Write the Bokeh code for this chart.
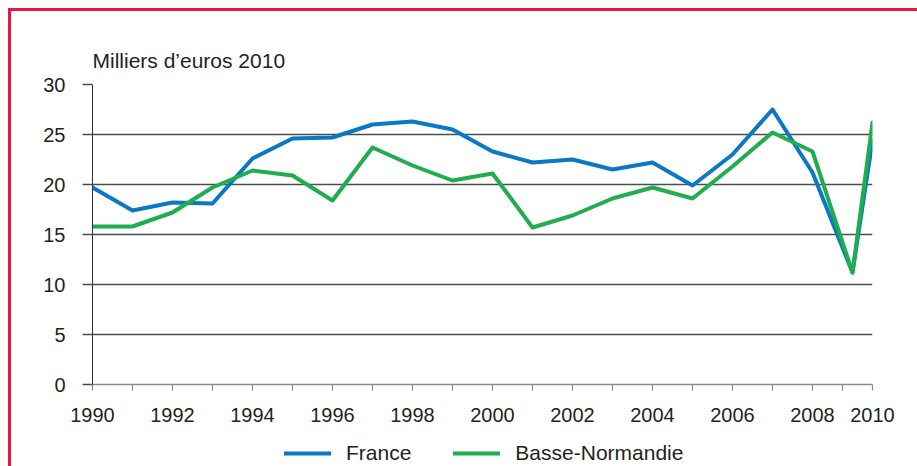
from bokeh.plotting import figure
from bokeh.models import Range1d, FixedTicker, Legend, LegendItem
from bokeh.layouts import column
from bokeh.embed import file_html
from bokeh.resources import INLINE

# ---- data -------------------------------------------------------------
years = list(range(1990, 2011))
france = [19.7, 17.4, 18.2, 18.1, 22.6, 24.6, 24.7, 26.0, 26.3, 25.5, 23.3,
          22.2, 22.5, 21.5, 22.2, 19.9, 23.0, 27.5, 21.2, 11.2, 24.4]
basse_normandie = [15.8, 15.8, 17.2, 19.7, 21.4, 20.9, 18.4, 23.7, 21.9, 20.4, 21.1,
                   15.7, 16.9, 18.6, 19.7, 18.6, 21.8, 25.2, 23.3, 11.2, 26.2]
tick_labels = ["1990", "1992", "1994", "1996", "1998", "2000",
               "2002", "2004", "2006", "2008", "2010"]
y_ticks = [0, 5, 10, 15, 20, 25, 30]
y_title = "Milliers d\u2019euros 2010"
series_names = ["France", "Basse-Normandie"]


# the original axis squeezes the last interval (2009 -> 2010) to half a step
def axis_pos(year):
    return year if year < 2010 else 2009.5


x = [axis_pos(y) for y in years]
label_years = [int(t) for t in tick_labels]
major = [axis_pos(y) for y in label_years]
minor = [axis_pos(y) for y in years if y not in label_years and y < 2009] + [2008.75]

FONT = "Liberation Sans"
TXT = "#231f20"
BLUE = "#0a78c4"
GREEN = "#20ad4e"
RED = "#e8173f"
series_colors = [BLUE, GREEN]
series_values = [france, basse_normandie]

# ---- main chart ---------------------------------------------------------
p = figure(width=917, height=430, output_backend="svg", toolbar_location=None,
           x_range=Range1d(1990, 2009.5), y_range=Range1d(0, 30),
           min_border_left=92, min_border_right=45, min_border_top=84, min_border_bottom=46)
# red frame (top and left edges) painted behind a transparent canvas
p.styles = {"background": (f"linear-gradient({RED},{RED}) 8px 8px / 100% 3px no-repeat, "
                           f"linear-gradient({RED},{RED}) 8px 8px / 3px 100% no-repeat, white")}
p.outline_line_color = None
p.background_fill_color = None
p.border_fill_color = None

for vals, col in zip(series_values, series_colors):
    p.line(x, vals, line_color=col, line_width=4, line_cap="round", line_join="round")

p.title.text = y_title
p.title.align = "left"
p.title.text_font = FONT
p.title.text_font_size = "21px"
p.title.text_font_style = "normal"
p.title.text_color = TXT
p.title.standoff = 25
p.title.offset = 0

p.xaxis.ticker = FixedTicker(ticks=major, minor_ticks=minor)
p.xaxis.major_label_overrides = {m: t for m, t in zip(major, tick_labels)}
p.xaxis.axis_line_color = "#8a8a8a"
p.xaxis.axis_line_width = 1.5
p.xaxis.major_tick_line_color = "#8a8a8a"
p.xaxis.minor_tick_line_color = "#8a8a8a"
p.xaxis.major_tick_line_width = 1.2
p.xaxis.minor_tick_line_width = 1.2
p.xaxis.major_tick_out = 6
p.xaxis.major_tick_in = 0
p.xaxis.minor_tick_out = 6
p.xaxis.minor_tick_in = 0
p.xaxis.major_label_standoff = 17

p.yaxis.ticker = FixedTicker(ticks=y_ticks, minor_ticks=[])
p.yaxis.axis_line_color = "#333333"
p.yaxis.major_tick_line_color = "#4d4d4d"
p.yaxis.major_tick_line_width = 1.3
p.yaxis.major_tick_out = 10
p.yaxis.major_tick_in = 0
p.yaxis.minor_tick_line_color = None
p.yaxis.major_label_standoff = 17

for ax in (p.xaxis, p.yaxis):
    ax.major_label_text_font = FONT
    ax.major_label_text_font_size = "20px"
    ax.major_label_text_color = TXT

p.xgrid.grid_line_color = None
p.ygrid.grid_line_color = "#4d4d4d"
p.ygrid.grid_line_width = 1.3

# ---- legend strip under the chart ----------------------------------------
q = figure(width=917, height=36, output_backend="svg", toolbar_location=None,
           x_axis_type=None, y_axis_type=None,
           x_range=Range1d(1990, 2009.5), y_range=Range1d(0, 30),
           min_border_left=0, min_border_right=0, min_border_top=0, min_border_bottom=0)
q.styles = {"background": (f"linear-gradient({RED},{RED}) 8px 0 / 3px 100% no-repeat, white")}
q.outline_line_color = None
q.background_fill_color = None
q.border_fill_color = None
q.xgrid.visible = False
q.ygrid.visible = False

items = []
for name, vals, col in zip(series_names, series_values, series_colors):
    r = q.line(x, vals, line_color=col, line_width=4, line_cap="round", visible=False)
    items.append(LegendItem(label=name, renderers=[r]))

legend = Legend(items=items, orientation="horizontal", location=(192, 1),
                glyph_width=47, glyph_height=20, label_standoff=15, spacing=42,
                padding=0, margin=0, border_line_color=None, background_fill_alpha=0,
                inactive_fill_alpha=0,
                label_text_font=FONT, label_text_font_size="21px", label_text_color=TXT)
q.add_layout(legend)

layout = column(p, q, spacing=0)
open("out.html", "w").write(file_html(layout, INLINE))
